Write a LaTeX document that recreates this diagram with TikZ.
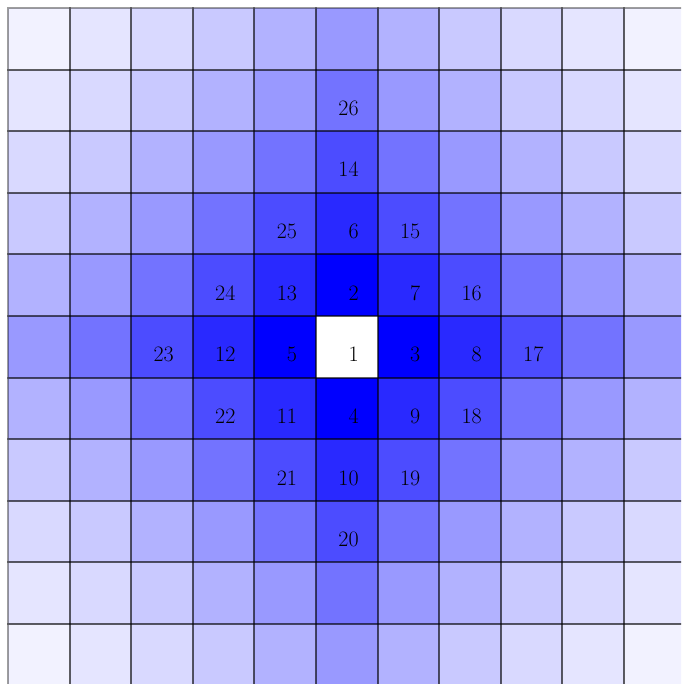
\documentclass[tikz,border=0pt]{standalone}
\colorlet{lvl0}{white}
\colorlet{lvl1}{blue}
\colorlet{lvl2}{blue!84!white}
\colorlet{lvl3}{blue!70!white}
\colorlet{lvl4}{blue!55!white}
\colorlet{lvl5}{blue!40!white}
\colorlet{lvl6}{blue!30!white}
\colorlet{lvl7}{blue!21!white}
\colorlet{lvl8}{blue!15!white}
\colorlet{lvl9}{blue!10!white}
\colorlet{lvl10}{blue!5!white}
\tikzset{
  cellline/.style={draw=black, draw opacity=0.38, line width=2pt},
  num/.style={anchor=base east, inner sep=0pt, font=\fontsize{22}{26}\selectfont}
}
\begin{document}
\begin{tikzpicture}[x=1pt,y=-1pt]
\useasboundingbox (0,0) rectangle (681,684);
\clip (0,0) rectangle (681,684);
\fill[white] (0,0) rectangle (681,684);
\def\cs{61.6}
\foreach \i in {0,...,10}{
  \foreach \j in {0,...,10}{
    \pgfmathtruncatemacro\d{abs(\i-5)+abs(\j-5)}
    \fill[lvl\d] ({8+\i*\cs},{8+\j*\cs}) rectangle ++(\cs,\cs);
  }
}
\foreach \i in {0,...,10}{
  \foreach \j in {0,...,10}{
    \draw[cellline] ({8+\i*\cs},{8+\j*\cs}) rectangle ++(\cs,\cs);
  }
}
\foreach \n/\dx/\dy in {1/0/0,2/0/-1,3/1/0,4/0/1,5/-1/0,6/0/-2,7/1/-1,8/2/0,9/1/1,10/0/2,11/-1/1,12/-2/0,13/-1/-1,14/0/-3,15/1/-2,16/2/-1,17/3/0,18/2/1,19/1/2,20/0/3,21/-1/2,22/-2/1,23/-3/0,24/-2/-1,25/-1/-2,26/0/-4}{
  \node[num] (n\n) at ({8+(5+\dx)*\cs+\cs/2+12},{8+(5+\dy)*\cs+\cs/2+15}) {\n};
}
\end{tikzpicture}
\end{document}
